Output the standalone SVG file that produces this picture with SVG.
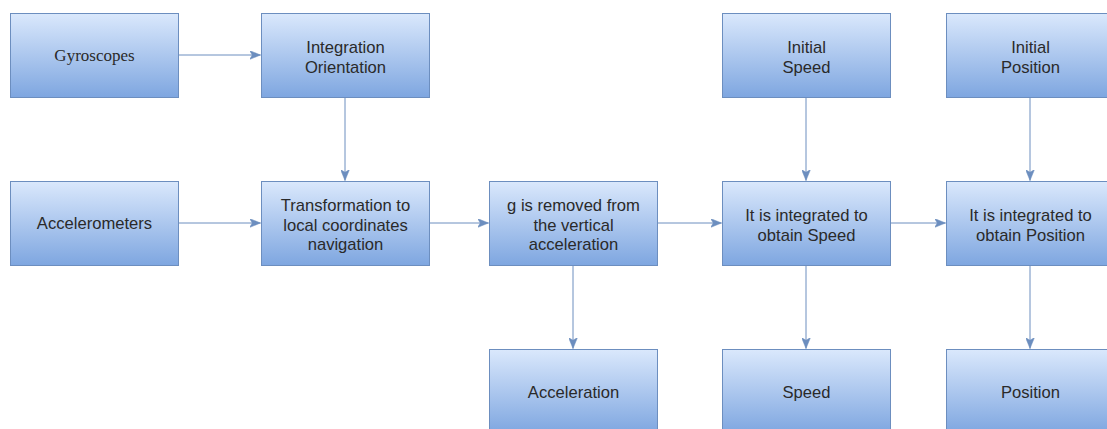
<svg xmlns="http://www.w3.org/2000/svg" width="1107" height="429" viewBox="0 0 1107 429">
  <style>
    .box { fill: url(#boxFill); stroke: #6c8ebf; stroke-width: 1; }
    .lbl { font-family: "Liberation Sans", Arial, sans-serif; font-size: 16.6px; fill: #2a2a2a; text-anchor: middle; }
    .serif { font-family: "Liberation Serif", "Times New Roman", serif; font-size: 17px; }
    .edge { fill: none; stroke: #6c8ebf; stroke-width: 1; marker-end: url(#arrow); }
  </style>
  <defs>
    <linearGradient id="boxFill" x1="0" y1="0" x2="0" y2="1">
      <stop offset="0" stop-color="#dae8fc"/>
      <stop offset="1" stop-color="#7ea6e0"/>
    </linearGradient>
    <marker id="arrow" viewBox="0 0 11 9" refX="11" refY="4.5" markerWidth="11" markerHeight="9" markerUnits="userSpaceOnUse" orient="auto">
      <path d="M0,0 L11,4.5 L0,9 L2.8,4.5 Z" fill="#6c8ebf" stroke="#6c8ebf" stroke-width="0.5"/>
    </marker>
  </defs>
  <rect width="1107" height="429" fill="#ffffff"/>

  <g id="connectors">
    <path class="edge" d="M178.5,55 H260.5"/>
    <path class="edge" d="M345,97.5 V180.5"/>
    <path class="edge" d="M178.5,223 H260.5"/>
    <path class="edge" d="M429.5,223 H488.5"/>
    <path class="edge" d="M657.5,223 H721.5"/>
    <path class="edge" d="M890.5,223 H945.5"/>
    <path class="edge" d="M806,97.5 V180.5"/>
    <path class="edge" d="M1030,97.5 V180.5"/>
    <path class="edge" d="M573,265.5 V348.5"/>
    <path class="edge" d="M806,265.5 V348.5"/>
    <path class="edge" d="M1030,265.5 V348.5"/>
  </g>

  <g id="gyroscopes">
    <rect class="box" x="10.5" y="13.5" width="168" height="84"/>
    <text class="lbl serif" x="94.5" y="61">Gyroscopes</text>
  </g>
  <g id="integration-orientation">
    <rect class="box" x="261.5" y="13.5" width="168" height="84"/>
    <text class="lbl" x="345.5" y="53">Integration</text>
    <text class="lbl" x="345.5" y="72.5">Orientation</text>
  </g>
  <g id="initial-speed">
    <rect class="box" x="722.5" y="13.5" width="168" height="84"/>
    <text class="lbl" x="806.5" y="53">Initial</text>
    <text class="lbl" x="806.5" y="72.5">Speed</text>
  </g>
  <g id="initial-position">
    <rect class="box" x="946.5" y="13.5" width="168" height="84"/>
    <text class="lbl" x="1030.5" y="53">Initial</text>
    <text class="lbl" x="1030.5" y="72.5">Position</text>
  </g>

  <g id="accelerometers">
    <rect class="box" x="10.5" y="181.5" width="168" height="84"/>
    <text class="lbl" x="94.5" y="229">Accelerometers</text>
  </g>
  <g id="transformation">
    <rect class="box" x="261.5" y="181.5" width="168" height="84"/>
    <text class="lbl" x="345.5" y="211">Transformation to</text>
    <text class="lbl" x="345.5" y="230.5">local coordinates</text>
    <text class="lbl" x="345.5" y="250">navigation</text>
  </g>
  <g id="remove-g">
    <rect class="box" x="489.5" y="181.5" width="168" height="84"/>
    <text class="lbl" x="573.5" y="211">g is removed from</text>
    <text class="lbl" x="573.5" y="230.5">the vertical</text>
    <text class="lbl" x="573.5" y="250">acceleration</text>
  </g>
  <g id="integrate-speed">
    <rect class="box" x="722.5" y="181.5" width="168" height="84"/>
    <text class="lbl" x="806.5" y="221">It is integrated to</text>
    <text class="lbl" x="806.5" y="240.5">obtain Speed</text>
  </g>
  <g id="integrate-position">
    <rect class="box" x="946.5" y="181.5" width="168" height="84"/>
    <text class="lbl" x="1030.5" y="221">It is integrated to</text>
    <text class="lbl" x="1030.5" y="240.5">obtain Position</text>
  </g>

  <g id="acceleration">
    <rect class="box" x="489.5" y="349.5" width="168" height="84"/>
    <text class="lbl" x="573.5" y="398">Acceleration</text>
  </g>
  <g id="speed">
    <rect class="box" x="722.5" y="349.5" width="168" height="84"/>
    <text class="lbl" x="806.5" y="398">Speed</text>
  </g>
  <g id="position">
    <rect class="box" x="946.5" y="349.5" width="168" height="84"/>
    <text class="lbl" x="1030.5" y="398">Position</text>
  </g>
</svg>
